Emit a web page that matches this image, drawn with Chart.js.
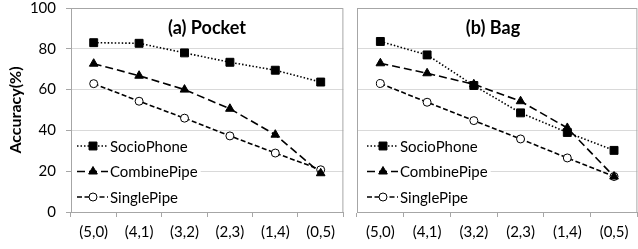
<!DOCTYPE html>
<html>
<head>
<meta charset="utf-8">
<script src="https://cdn.jsdelivr.net/npm/chart.js@4/dist/chart.umd.min.js"></script>
<style>
  body { margin: 0; background: #fff; overflow: hidden; }
  #wrap { position: relative; width: 638px; height: 249px; overflow: hidden; }
  canvas { position: absolute; top: 0; }
  #pocket { left: 0; }
  #bag { left: 350px; }
</style>
</head>
<body>
<div id="wrap">
  <canvas id="pocket" width="350" height="249"></canvas>
  <canvas id="bag" width="294" height="249"></canvas>
</div>
<script>
const categories = ['(5,0)', '(4,1)', '(3,2)', '(2,3)', '(1,4)', '(0,5)'];
const seriesNames = ['SocioPhone', 'CombinePipe', 'SinglePipe'];

// (a) Pocket
const pocketSocio = [83, 82.7, 78, 73.4, 69.5, 63.7];
const pocketCombine = [72.7, 66.8, 60, 50.6, 37.9, 19];
const pocketSingle = [62.9, 54.3, 46, 37.3, 28.9, 20.7];

// (b) Bag
const bagSocio = [83.6, 77, 62, 48.6, 39, 30.2];
const bagCombine = [72.9, 68, 62.6, 54.3, 41.2, 17.4];
const bagSingle = [63, 53.8, 44.8, 35.8, 26.5, 17.4];

const yMin = 0, yMax = 100, yStep = 20;

const FONT = 'Lato';
const GRID = '#d9d9d9';
const BORDER = '#a6a6a6';

function makeDatasets(socio, combine, single) {
  return [
    {
      label: seriesNames[0], data: socio,
      borderColor: '#000', borderWidth: 1.6, borderDash: [1.5, 2],
      pointStyle: 'rect', pointRadius: 5.6,
      pointBackgroundColor: '#000', pointBorderColor: '#000', pointBorderWidth: 1
    },
    {
      label: seriesNames[1], data: combine,
      borderColor: '#000', borderWidth: 1.6, borderDash: [8, 4],
      pointStyle: 'triangle', pointRadius: 5,
      pointBackgroundColor: '#000', pointBorderColor: '#000', pointBorderWidth: 1
    },
    {
      label: seriesNames[2], data: single,
      borderColor: '#000', borderWidth: 1.6, borderDash: [5, 2.5],
      pointStyle: 'circle', pointRadius: 4,
      pointBackgroundColor: '#fff', pointBorderColor: '#000', pointBorderWidth: 1
    }
  ];
}

function drawMarker(ctx, style, r, x, y, fill) {
  ctx.beginPath();
  if (style === 'rect') {
    const s = Math.SQRT1_2 * r;
    ctx.rect(x - s, y - s, 2 * s, 2 * s);
  } else if (style === 'triangle') {
    ctx.moveTo(x, y - r);
    ctx.lineTo(x + r * Math.sqrt(3) / 2, y + r / 2);
    ctx.lineTo(x - r * Math.sqrt(3) / 2, y + r / 2);
    ctx.closePath();
  } else {
    ctx.arc(x, y, r, 0, Math.PI * 2);
  }
  ctx.fillStyle = fill;
  ctx.fill();
  ctx.lineWidth = 1;
  ctx.strokeStyle = '#000';
  ctx.stroke();
}

// panel box, title and the in-plot legend
const panelDecor = {
  id: 'panelDecor',
  afterDatasetsDraw(chart, args, opts) {
    const ctx = chart.ctx;
    const a = chart.chartArea;
    ctx.save();

    ctx.strokeStyle = BORDER;
    ctx.lineWidth = 1;
    ctx.beginPath();
    ctx.moveTo(a.left, a.top + 0.5);
    ctx.lineTo(a.right - 0.5, a.top + 0.5);
    ctx.lineTo(a.right - 0.5, a.bottom);
    ctx.stroke();

    ctx.fillStyle = '#000';
    ctx.font = 'bold 18px ' + FONT;
    ctx.textAlign = 'center';
    ctx.textBaseline = 'middle';
    ctx.fillText(opts.title, a.left + 136, a.top + 20);

    ctx.font = '15px ' + FONT;
    const x0 = a.left + opts.legendX;
    let maxW = 0;
    chart.data.datasets.forEach(ds => { maxW = Math.max(maxW, ctx.measureText(ds.label).width); });
    ctx.fillStyle = '#fff';
    ctx.fillRect(a.left + 1, a.top + 126, x0 + 33 + maxW + 3 - a.left - 1, 76);

    chart.data.datasets.forEach((ds, i) => {
      const y = a.top + 138 + i * 25.5;
      ctx.setLineDash(ds.borderDash);
      ctx.strokeStyle = ds.borderColor;
      ctx.lineWidth = ds.borderWidth;
      ctx.beginPath();
      ctx.moveTo(x0, y);
      ctx.lineTo(x0 + 31, y);
      ctx.stroke();
      ctx.setLineDash([]);
      drawMarker(ctx, ds.pointStyle, ds.pointRadius, x0 + 16, y, ds.pointBackgroundColor);
      ctx.fillStyle = '#000';
      ctx.textAlign = 'left';
      ctx.textBaseline = 'middle';
      ctx.fillText(ds.label, x0 + 33, y + 1);
    });
    ctx.restore();
  }
};

function makeChart(id, datasets, title, legendX, showY) {
  const ctx = document.getElementById(id).getContext('2d');
  return new Chart(ctx, {
    type: 'line',
    data: { labels: categories, datasets: datasets },
    plugins: [panelDecor],
    options: {
      responsive: false,
      animation: false,
      layout: { padding: { top: 8, right: 1, left: 0, bottom: 0 } },
      plugins: {
        legend: { display: false },
        tooltip: { enabled: false },
        panelDecor: { title: title, legendX: legendX }
      },
      scales: {
        x: {
          offset: true,
          grid: { offset: true, drawOnChartArea: false, drawTicks: true, tickLength: 5, tickColor: BORDER },
          border: { display: true, color: BORDER },
          ticks: { color: '#000', font: { family: FONT, size: 15 }, padding: 6, maxRotation: 0 },
          afterFit: s => { s.height = 37; s.paddingLeft = 0; s.paddingRight = 0; }
        },
        y: {
          min: yMin, max: yMax,
          grid: { color: GRID, drawTicks: showY, tickLength: 5, tickColor: BORDER },
          border: { display: true, color: BORDER },
          ticks: { display: showY, stepSize: yStep, color: '#000', font: { family: FONT, size: 15 }, padding: 10 },
          title: { display: showY, text: 'Accuracy(%)', color: '#000', font: { family: FONT, size: 16, weight: 'bold' }, padding: { top: 6, bottom: 0 } },
          afterFit: s => { s.width = showY ? 71 : 7; s.paddingTop = 0; s.paddingBottom = 0; }
        }
      }
    }
  });
}

makeChart('pocket', makeDatasets(pocketSocio, pocketCombine, pocketSingle), '(a) Pocket', 6, true);
makeChart('bag', makeDatasets(bagSocio, bagCombine, bagSingle), '(b) Bag', 10, false);
</script>
</body>
</html>
